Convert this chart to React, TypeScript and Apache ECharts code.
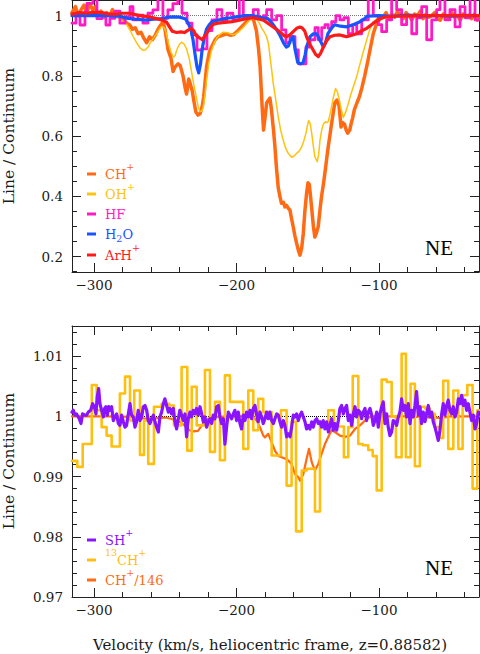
import React, { useEffect, useRef } from "react";
import * as echarts from "echarts";

// ---------- DATA ----------
const X_MIN = -315.4;
const X_MAX = -29.8;
const X_TICKS = [-300, -200, -100];

// top panel: [velocity (km/s), line/continuum]
const CH_PLUS: [number, number][] = [
  [-315.4,1.01],[-313,1.03],[-311,1.0],[-309,1.02],[-307,1.035],[-305,1.01],[-303,1.04],[-301,1.02],[-299,1.03],[-297,1.0],
  [-295,1.015],[-293,0.995],[-291,1.01],[-289,1.0],[-287,1.02],[-285,0.995],[-283,1.005],[-281,0.99],[-279,0.985],[-277,0.975],
  [-275,0.97],[-273,0.955],[-271,0.96],[-269,0.94],[-267,0.945],[-265,0.925],[-263,0.91],[-261,0.93],[-259,0.92],[-257,0.935],
  [-255,0.955],[-253,0.97],[-251.5,0.98],[-250,0.95],[-248,0.886],[-246,0.86],[-244.5,0.815],[-243,0.83],[-241,0.84],[-239.5,0.835],
  [-237.5,0.8],[-236,0.76],[-235,0.74],[-233.5,0.79],[-232.5,0.775],[-231,0.75],[-230,0.72],[-228.5,0.68],[-227,0.67],[-225.5,0.675],
  [-224,0.7],[-223,0.73],[-221,0.83],[-219,0.88],[-217.5,0.896],[-215,0.92],[-213,0.93],[-210,0.935],[-207,0.94],[-204,0.935],
  [-202,0.937],[-199,0.95],[-195,0.97],[-192,0.985],[-190.5,0.996],[-188,0.986],[-186,0.95],[-184.5,0.89],[-183.4,0.83],[-182,0.7],
  [-181,0.62],[-180,0.66],[-178.8,0.71],[-177.5,0.72],[-176.5,0.726],[-175.5,0.69],[-174,0.62],[-173,0.565],[-172,0.5],[-170.7,0.43],
  [-169.5,0.4],[-168.4,0.377],[-167,0.38],[-166,0.365],[-164.9,0.37],[-163.5,0.36],[-162.5,0.355],[-161.5,0.33],[-160.2,0.3],[-159,0.27],
  [-157.8,0.245],[-156.5,0.22],[-155.4,0.205],[-154.2,0.23],[-153.1,0.277],[-152,0.35],[-150.8,0.41],[-149.8,0.445],[-148.9,0.44],[-148,0.4],
  [-147.3,0.365],[-146,0.3],[-145,0.265],[-143.8,0.28],[-142.6,0.3],[-141.5,0.35],[-140.3,0.4],[-139,0.44],[-138,0.475],[-136.8,0.52],
  [-135.6,0.565],[-134.5,0.6],[-133.3,0.64],[-132,0.68],[-131,0.71],[-129.5,0.72],[-128,0.7],[-126.6,0.63],[-125.5,0.645],[-124.2,0.64],
  [-123,0.62],[-121.9,0.61],[-120.5,0.62],[-119.6,0.64],[-118.5,0.66],[-117.3,0.687],[-115.5,0.71],[-113.8,0.73],[-112,0.76],[-110,0.8],
  [-108,0.845],[-106.3,0.886],[-104,0.94],[-101.6,0.975],[-99,0.99],[-97,0.996],[-95,1.01],[-93,0.99],[-91,1.005],[-89,0.995],
  [-87,1.015],[-85,1.0],[-83,0.99],[-81,1.01],[-79,1.0],[-77,0.985],[-75,1.005],[-73,1.0],[-71,1.015],[-69,0.99],
  [-67,1.005],[-65,0.995],[-63,1.0],[-61,1.01],[-59,0.99],[-57,0.985],[-55,1.005],[-53,1.0],[-51,0.99],[-49,1.01],
  [-47,0.995],[-45,1.0],[-43,0.985],[-41,1.005],[-39,0.995],[-37,1.0],[-35,0.99],[-33,1.005],[-31,0.985],[-29.8,1.0],
];

const OH_PLUS: [number, number][] = [
  [-315.4,1.0],[-300,1.0],[-290,1.0],[-285,0.997],[-282,0.99],[-279.5,0.98],[-277,0.97],[-274.5,0.95],[-272.4,0.93],[-270,0.91],
  [-267.7,0.893],[-265.5,0.885],[-264,0.886],[-262,0.896],[-260.7,0.908],[-258,0.927],[-256,0.94],[-254,0.955],[-252.5,0.964],[-251,0.962],
  [-250,0.953],[-248.8,0.932],[-247.8,0.91],[-246,0.88],[-244.3,0.862],[-243,0.868],[-242,0.885],[-240,0.905],[-238.5,0.912],[-236.8,0.906],
  [-235,0.89],[-233,0.855],[-231.4,0.81],[-229.7,0.765],[-228,0.725],[-226.8,0.697],[-225.6,0.682],[-224.4,0.683],[-223.3,0.697],[-222,0.74],
  [-221,0.785],[-219.5,0.84],[-217.5,0.884],[-215.5,0.91],[-213.9,0.925],[-211.5,0.938],[-209.3,0.945],[-206,0.943],[-202.2,0.936],[-199,0.944],
  [-195,0.962],[-192,0.979],[-189.4,0.989],[-187.5,0.99],[-185.7,0.986],[-184,0.976],[-182.2,0.958],[-180.5,0.945],[-178.8,0.93],[-177.5,0.905],
  [-176.5,0.866],[-175.3,0.82],[-174.2,0.775],[-172.4,0.72],[-170.7,0.665],[-169,0.62],[-167.2,0.587],[-165.5,0.56],[-163.7,0.543],[-161.3,0.53],
  [-159.5,0.534],[-157.8,0.543],[-155.8,0.551],[-154.2,0.565],[-152.7,0.585],[-151.2,0.61],[-150.2,0.635],[-149.3,0.652],[-148.3,0.642],[-147.2,0.61],
  [-146,0.565],[-144.9,0.53],[-143.3,0.515],[-142.3,0.54],[-141.4,0.585],[-140.2,0.62],[-139,0.64],[-137.5,0.648],[-136.5,0.645],[-135.6,0.648],
  [-134,0.68],[-132,0.728],[-130.5,0.758],[-129.2,0.748],[-127.8,0.72],[-126.3,0.685],[-125,0.662],[-123.5,0.678],[-121.5,0.708],[-120,0.735],
  [-118,0.764],[-115.5,0.8],[-113.3,0.84],[-111,0.88],[-108.7,0.918],[-107,0.946],[-105.2,0.968],[-103,0.982],[-101.6,0.99],[-98,0.998],
  [-95,1.0],[-29.8,1.0],
];

// HF: binned spectrum, [bin left edge, value]
const HF: [number, number][] = [
  [-315.4,0.975],[-312.6,1.008],[-309.8,0.969],[-306.3,1.013],[-304.9,1.041],[-300.7,1.06],[-297.9,0.99],[-294.4,1.008],[-291.6,0.969],[-288.8,0.991],
  [-285.3,1.015],[-281.8,0.975],[-278.2,0.997],[-274.7,1.03],[-272.6,0.986],[-269.1,1.002],[-265.6,0.975],[-262.1,1.008],[-258.6,1.019],[-255.1,1.06],
  [-251.6,0.991],[-248.1,1.019],[-244.6,1.04],[-241.1,1.06],[-238.2,1.008],[-234.7,0.975],[-231.2,0.936],[-227.7,0.886],[-224.2,0.89],[-220.7,0.95],
  [-217.2,0.986],[-213.7,1.02],[-210.2,0.986],[-206.7,1.008],[-202.5,0.986],[-198.0,1.06],[-195.2,0.99],[-191.7,1.0],[-188.2,1.02],[-184.7,0.99],
  [-181.2,1.0],[-178.8,1.02],[-175.3,0.986],[-171.8,1.0],[-168.3,0.953],[-165.3,0.91],[-162.4,0.93],[-158.9,0.886],[-156.6,0.84],[-151.2,0.896],
  [-148.4,0.92],[-144.9,0.96],[-142.6,0.92],[-140.2,0.96],[-137.9,0.97],[-135.6,0.958],[-133.2,0.98],[-130.2,1.0],[-127.4,0.986],[-124.6,0.993],
  [-121.5,0.94],[-118.4,0.97],[-115.6,0.94],[-112.1,0.986],[-107.5,1.06],[-104.0,1.0],[-100.5,0.97],[-98.1,0.947],[-94.6,0.986],[-91.1,1.06],
  [-87.6,1.02],[-84.1,0.97],[-80.6,1.0],[-77.0,0.94],[-73.5,0.993],[-70.0,1.03],[-66.5,0.92],[-63.0,0.986],[-59.5,1.02],[-57.2,1.06],
  [-53.7,0.986],[-50.2,1.02],[-46.6,0.963],[-43.1,1.03],[-39.6,0.993],[-36.1,1.06],[-32.6,0.986],[-29.8,0.986],
];

const H2O: [number, number][] = [
  [-315.4,1.0],[-300,1.0],[-290,1.0],[-282,0.998],[-276,0.991],[-270,0.988],[-264,0.985],[-258,0.988],[-252,0.99],[-248,0.995],
  [-244,0.996],[-240,0.995],[-236,0.99],[-234,0.976],[-232,0.955],[-230.5,0.92],[-229,0.87],[-227.7,0.83],[-226.5,0.81],[-225.2,0.84],
  [-224,0.89],[-222.5,0.93],[-221,0.955],[-219,0.97],[-217,0.98],[-213,0.985],[-209,0.99],[-204,0.993],[-199,0.997],[-194,1.0],
  [-190,1.0],[-186,0.998],[-182,0.993],[-178,0.99],[-175,0.975],[-172,0.955],[-169.5,0.935],[-167,0.91],[-165,0.896],[-163.5,0.9],
  [-162,0.92],[-160.3,0.93],[-158.5,0.88],[-157,0.845],[-155,0.84],[-153.3,0.843],[-151.8,0.87],[-150.8,0.896],[-148.4,0.93],[-146,0.94],
  [-143.7,0.94],[-141.5,0.92],[-139,0.896],[-137.5,0.91],[-135.8,0.94],[-133,0.96],[-131,0.97],[-127,0.965],[-122.7,0.963],[-118,0.97],
  [-113.3,0.98],[-110,0.99],[-108.6,0.998],[-100,1.0],[-90,0.998],[-80,1.002],[-70,0.999],[-60,1.001],[-50,0.998],[-40,1.001],[-29.8,1.0],
];

const ARH_PLUS: [number, number][] = [
  [-315.4,1.005],[-310,1.01],[-305,1.008],[-300,1.012],[-295,1.01],[-290,1.006],[-285,1.005],[-280,1.008],[-275,1.008],[-268,1.0],
  [-262,0.997],[-256,0.99],[-252,0.985],[-249,0.978],[-247,0.963],[-245,0.948],[-242,0.944],[-239,0.946],[-236.5,0.944],[-234.5,0.95],
  [-232,0.958],[-230,0.95],[-228.5,0.936],[-227,0.93],[-225.5,0.925],[-224,0.92],[-222.5,0.93],[-221,0.94],[-218.6,0.96],[-216,0.972],
  [-213,0.975],[-208,0.978],[-203,0.98],[-198,0.985],[-193,0.99],[-189,0.993],[-185,0.99],[-181,0.985],[-178,0.975],[-175,0.965],
  [-172,0.955],[-169.5,0.946],[-167,0.935],[-165,0.93],[-162.5,0.936],[-160,0.948],[-157.8,0.958],[-155.5,0.962],[-154,0.96],[-152,0.948],
  [-150.8,0.93],[-148.5,0.905],[-146.2,0.886],[-144.5,0.872],[-142.6,0.864],[-141,0.875],[-139,0.896],[-137,0.915],[-134.4,0.93],[-131,0.935],
  [-127.4,0.936],[-125,0.933],[-122.7,0.93],[-119,0.935],[-115.7,0.94],[-112,0.95],[-108.6,0.958],[-106,0.967],[-104,0.975],[-101.5,0.983],
  [-99.3,0.99],[-96,0.995],[-90,0.998],[-70,1.0],[-29.8,1.0],
];

// bottom panel
const SH_PLUS: [number, number][] = [
  [-315.4,1.0007],[-314.5,1.001],[-313.3,1.0002],[-312.2,1.0004],[-310.3,0.9996],[-309.1,0.9988],[-308.0,1.0004],[-306.3,1.0002],[-305.1,1.0002],[-304.0,1.0007],
  [-302.3,1.001],[-300.9,1.0021],[-299.8,1.0016],[-298.6,1.0004],[-297.7,1.0032],[-296.7,1.0046],[-295.8,1.0021],[-294.6,1.001],[-293.4,0.9999],[-292.5,1.0013],
  [-291.6,1.0016],[-290.6,1.0002],[-289.7,1.0016],[-288.8,1.001],[-287.6,1.0016],[-286.4,0.9993],[-285.3,0.9999],[-284.1,1.0004],[-282.9,0.9988],[-281.8,0.9985],
  [-280.6,1.0002],[-279.4,0.9991],[-278.2,0.9982],[-277.1,0.9985],[-275.9,1.0004],[-274.7,1.0021],[-273.6,1.0002],[-272.4,0.9999],[-271.2,0.9982],[-270.1,0.9991],
  [-268.9,1.001],[-267.7,0.9993],[-266.5,0.9999],[-265.4,1.0016],[-264.2,1.0018],[-263.0,1.001],[-261.9,0.9993],[-260.7,0.9988],[-259.5,0.9996],[-258.3,1.0002],
  [-257.2,0.9991],[-256.0,0.9982],[-254.8,0.9974],[-253.7,0.9999],[-252.5,1.0007],[-251.3,1.0021],[-250.2,1.0029],[-249.0,1.0018],[-247.8,1.0007],[-246.7,1.0013],
  [-245.5,1.0004],[-244.3,1.0013],[-243.2,0.9991],[-242.0,0.9979],[-240.8,0.9996],[-239.7,1.001],[-238.5,1.0002],[-237.3,0.9993],[-236.1,1.0004],[-235.0,0.9966],
  [-233.8,0.9996],[-232.6,1.0007],[-231.5,0.9999],[-230.3,1.001],[-229.1,1.0004],[-228.0,1.0013],[-226.8,1.0002],[-225.6,1.0016],[-224.4,1.0004],[-223.3,0.9991],
  [-222.1,0.9999],[-220.9,0.9982],[-219.8,0.9991],[-218.6,0.9996],[-217.4,0.9988],[-216.3,1.0002],[-215.1,0.9996],[-213.9,1.0016],[-212.7,1.0018],[-211.6,0.9999],
  [-210.4,0.9988],[-209.2,0.9996],[-208.1,0.9954],[-206.9,0.9982],[-205.7,1.0007],[-204.6,1.0002],[-203.4,0.9996],[-202.2,1.0004],[-201.1,1.001],[-199.9,0.9993],
  [-198.7,1.0007],[-197.5,0.9988],[-196.4,0.9979],[-195.2,1.0002],[-194.0,0.9993],[-192.9,1.0007],[-191.7,0.9999],[-190.5,1.001],[-189.4,0.9996],[-188.2,1.0013],
  [-187.0,1.0018],[-185.8,1.0002],[-184.7,0.9991],[-183.5,1.0007],[-182.3,0.9999],[-181.2,0.9988],[-180.0,0.9996],[-178.8,1.0007],[-177.7,0.9996],[-176.5,1.0007],
  [-175.3,0.9993],[-174.1,0.9988],[-173.0,0.9996],[-171.8,1.0004],[-170.6,1.0002],[-169.5,0.9991],[-168.3,0.9982],[-167.1,0.9993],[-166.0,0.9985],[-164.8,0.9966],
  [-163.6,0.9971],[-162.4,0.9966],[-161.3,0.9982],[-160.1,1.0002],[-158.9,0.9999],[-157.8,1.0004],[-156.6,0.9993],[-155.4,1.0002],[-154.3,1.0007],[-153.1,0.9999],
  [-151.9,0.9991],[-150.8,0.9979],[-149.6,0.9985],[-148.4,0.9979],[-147.2,0.9991],[-146.1,0.9982],[-144.9,0.9993],[-143.7,0.9996],[-142.6,0.9988],[-141.4,0.9991],
  [-140.2,0.9982],[-139.1,0.9993],[-137.9,0.9979],[-136.7,0.9991],[-135.5,0.9974],[-134.4,0.9985],[-133.2,0.9996],[-132.0,0.9977],[-130.9,0.9988],[-129.7,0.9977],
  [-128.5,0.9993],[-127.4,1.0013],[-126.2,1.0018],[-125.0,1.0004],[-123.9,1.0013],[-122.7,1.0018],[-121.5,0.9993],[-120.3,1.0002],[-119.2,0.9985],[-118.0,1.0004],
  [-116.8,1.0016],[-115.7,0.9999],[-114.5,1.001],[-113.3,1.0007],[-112.2,0.9996],[-111.0,1.0007],[-109.8,1.0013],[-108.7,0.9993],[-107.5,1.0007],[-106.3,1.0013],
  [-105.1,1.0002],[-104.0,0.9985],[-102.8,0.9993],[-101.6,1.0007],[-100.5,0.9982],[-99.3,1.0004],[-98.1,1.0016],[-97.0,1.0024],[-95.8,0.9988],[-94.6,1.0004],
  [-93.5,0.9982],[-92.3,0.9968],[-91.1,0.9974],[-90.0,0.9993],[-88.8,0.9991],[-87.6,0.9985],[-86.4,0.9999],[-85.3,1.0007],[-84.1,1.0029],[-82.9,1.001],
  [-81.8,1.0018],[-80.6,0.9999],[-79.4,1.0021],[-78.2,0.9988],[-77.1,1.001],[-75.9,0.9999],[-74.7,1.0018],[-73.6,1.0041],[-72.4,1.0002],[-71.2,1.0016],
  [-70.1,0.9988],[-68.9,1.0007],[-67.7,0.9991],[-66.6,1.0004],[-65.4,1.0018],[-64.2,0.9999],[-63.0,1.0007],[-61.9,0.9991],[-60.7,0.9982],[-59.5,0.9971],
  [-58.4,0.996],[-57.2,0.9977],[-56.0,1.0004],[-54.9,1.0021],[-53.7,1.0002],[-52.5,1.0018],[-51.4,1.0027],[-50.2,1.001],[-49.0,1.0004],[-47.8,1.0016],
  [-46.7,0.9999],[-45.5,1.0007],[-44.3,1.0029],[-43.2,1.0021],[-42.0,1.0035],[-40.8,1.0018],[-39.7,1.0027],[-38.5,1.001],[-37.3,1.0021],[-36.2,1.0007],
  [-35.0,0.9993],[-33.8,1.0002],[-32.6,0.9979],[-31.5,0.9988],[-30.3,1.0007],
];

// 13CH+: binned spectrum, [bin left edge, value]
const CH13_PLUS: [number, number][] = [
  [-315.4,0.9926],[-311.7,0.9916],[-307.9,0.9954],[-301.5,1.0052],[-298.1,1.001],[-294.6,0.9982],[-291.1,0.9968],[-287.6,0.995],[-281.8,1.0038],[-278.2,1.0066],
  [-274.7,0.9993],[-271.7,1.0043],[-267.7,0.9936],[-264.9,0.9993],[-261.9,0.9921],[-257.9,1.0016],[-252.5,1.0021],[-247.2,1.0018],[-243.9,0.9985],[-238.5,1.0082],
  [-234.5,0.9943],[-231.4,1.0049],[-227.9,0.9985],[-222.1,1.0077],[-218.6,0.9941],[-215.1,1.0024],[-211.6,0.9927],[-208.1,1.0068],[-204.6,1.0024],[-195.2,0.9946],
  [-191.7,1.0043],[-188.2,0.9977],[-184.7,1.0029],[-181.2,1.0007],[-175.3,0.9935],[-168.8,1.001],[-164.8,0.9885],[-161.3,0.9991],[-158.2,0.9809],[-154.2,0.991],
  [-150.7,0.9913],[-144.9,0.9842],[-141.4,0.999],[-135.6,1.001],[-131.6,0.9983],[-124.6,0.9932],[-121.5,0.9982],[-118.4,1.0067],[-114.5,0.9954],[-111.4,0.9952],
  [-107.5,0.9944],[-104.4,0.9934],[-101.6,0.9877],[-98.1,1.0061],[-94.6,1.0057],[-91.1,1.0],[-88.1,0.9932],[-84.1,1.0104],[-81.1,0.9932],[-77.8,1.0054],
  [-74.8,0.9917],[-71.3,1.0016],[-67.7,1.0013],[-64.2,1.0004],[-60.7,0.9982],[-57.2,0.9964],[-54.9,1.0059],[-51.4,0.9946],[-47.8,1.0043],[-44.3,0.9946],
  [-41.3,1.0035],[-38.0,1.0052],[-34.3,0.988],[-31.0,1.001],[-29.8,1.001],
];

const CH_PLUS_146: [number, number][] = [
  [-315.4,1.0],[-290,1.0],[-272,0.9999],[-268,0.9997],[-262,0.9996],[-256,0.9997],[-250,0.9998],[-246,0.9996],[-242,0.9993],[-239,0.999],
  [-236,0.9984],[-233,0.9977],[-230,0.9975],[-227,0.9976],[-224.5,0.9984],[-222,0.9993],[-219,0.9997],[-214,0.9999],[-205,1.0],[-190,1.0],
  [-188.2,0.9998],[-185.8,0.9993],[-183.5,0.9982],[-181.2,0.9968],[-180,0.9965],[-177.7,0.9971],[-175.3,0.9957],[-173,0.9943],[-170.6,0.9934],[-168.3,0.9932],
  [-164.8,0.9929],[-161.3,0.9921],[-158.9,0.9904],[-156.6,0.9899],[-155.4,0.9893],[-153.1,0.9904],[-150.8,0.9929],[-149.1,0.9946],[-147.2,0.9924],[-144.9,0.991],
  [-142.6,0.9921],[-140.2,0.9938],[-137.9,0.9954],[-135.5,0.9966],[-133.2,0.9977],[-130.9,0.9974],[-127.4,0.9968],[-123.9,0.9966],[-120.3,0.9968],[-116.8,0.9979],
  [-113.3,0.9985],[-109.8,0.9993],[-106.3,0.9999],[-104,1.0],[-80,1.0],[-60,0.9998],[-57,0.9997],[-50,1.0],[-29.8,1.0],
];

// ---------- STYLE ----------
const FONT = "'DejaVu Serif', serif";
const C_CH = "#ff6a13";
const C_OH = "#ffc20e";
const C_HF = "#ff1ac6";
const C_H2O = "#1655ff";
const C_ARH = "#ff1a1a";
const C_SH = "#8a14ff";
const C_13CH = "#ffbf0f";
const AXIS_COLOR = "#222";
const TEXT_COLOR = "#1a1a1a";

const isMultiple = (v: number, step: number) => Math.abs(v / step - Math.round(v / step)) < 1e-6;
const fmtNum = (v: number) => {
  const r = parseFloat(v.toFixed(4));
  return r < 0 ? "\u2212" + String(Math.abs(r)) : String(r);
};

function xAxis(gridIndex: number, position: "top" | "bottom", showLabel: boolean) {
  return {
    type: "value",
    gridIndex,
    position,
    min: X_MIN,
    max: X_MAX,
    splitNumber: 3,
    minInterval: 100,
    maxInterval: 100,
    axisLine: { show: true, onZero: false, lineStyle: { color: AXIS_COLOR, width: 1 } },
    axisTick: { show: true, inside: true, length: 9, lineStyle: { color: AXIS_COLOR, width: 1 } },
    minorTick: { show: true, splitNumber: 5, length: 5, lineStyle: { color: AXIS_COLOR, width: 1 } },
    splitLine: { show: false },
    minorSplitLine: { show: false },
    axisLabel: {
      show: showLabel,
      margin: 6,
      fontFamily: FONT,
      fontSize: 13.5,
      color: TEXT_COLOR,
      showMinLabel: false,
      showMaxLabel: false,
      formatter: (v: number) => (X_TICKS.some((t) => Math.abs(t - v) < 1e-6) ? fmtNum(v) : ""),
    },
  };
}

function yAxis(
  gridIndex: number,
  position: "left" | "right",
  showLabel: boolean,
  min: number,
  max: number,
  step: number,
  minorSplit: number,
  showMin: boolean
) {
  return {
    type: "value",
    gridIndex,
    position,
    min,
    max,
    minInterval: step,
    maxInterval: step,
    splitNumber: 5,
    axisLine: { show: true, onZero: false, lineStyle: { color: AXIS_COLOR, width: 1 } },
    axisTick: { show: true, inside: true, length: 9, lineStyle: { color: AXIS_COLOR, width: 1 } },
    minorTick: { show: true, splitNumber: minorSplit, length: 5, lineStyle: { color: AXIS_COLOR, width: 1 } },
    splitLine: { show: false },
    minorSplitLine: { show: false },
    axisLabel: {
      show: showLabel,
      margin: 9,
      fontFamily: FONT,
      fontSize: 13.5,
      color: TEXT_COLOR,
      showMinLabel: showMin,
      showMaxLabel: false,
      formatter: (v: number) => (isMultiple(v, step) ? fmtNum(v) : ""),
    },
  };
}

function line(
  name: string,
  data: [number, number][],
  color: string,
  width: number,
  axisIndex: number,
  extra: Record<string, unknown> = {}
) {
  return {
    type: "line",
    name,
    data,
    xAxisIndex: axisIndex,
    yAxisIndex: axisIndex,
    symbol: "none",
    showSymbol: false,
    clip: true,
    silent: true,
    lineStyle: { color, width, cap: "round", join: "round" },
    itemStyle: { color },
    ...extra,
  };
}

function refLine(axisIndex: number, color: string) {
  return {
    type: "line",
    data: [],
    xAxisIndex: axisIndex,
    yAxisIndex: axisIndex,
    symbol: "none",
    silent: true,
    markLine: {
      silent: true,
      z: 1,
      symbol: ["none", "none"],
      label: { show: false },
      lineStyle: { type: "dotted", color, width: 1 },
      data: [{ yAxis: 1 }],
    },
  };
}

function rich(color: string) {
  return {
    b: { fontFamily: FONT, fontSize: 13, fill: color, color },
    p: { fontFamily: FONT, fontSize: 9.5, fill: color, color, padding: [0, 0, 15, 0] },
    s: { fontFamily: FONT, fontSize: 9.5, fill: color, color, padding: [8, 0, 0, 0] },
  };
}

function legendItem(text: string, color: string, y: number) {
  return [
    { type: "rect", shape: { x: 87, y: y - 1.5, width: 9, height: 3 }, style: { fill: color } },
    {
      type: "text",
      x: 105,
      y,
      style: { text, rich: rich(color), fill: color, align: "left", verticalAlign: "middle", font: `13px ${FONT}` },
    },
  ];
}

export default function App() {
  const ref = useRef<HTMLDivElement>(null);

  useEffect(() => {
    if (!ref.current) return;
    const chart = echarts.init(ref.current, null, { renderer: "svg" });
    const option = {
      animation: false,
      backgroundColor: "#fff",
      grid: [
        { left: 72, top: 0, width: 407, height: 272, containLabel: false, outerBoundsMode: "none" },
        { left: 72, top: 326, width: 407, height: 271, containLabel: false, outerBoundsMode: "none" },
      ],
      xAxis: [xAxis(0, "bottom", true), xAxis(0, "top", false), xAxis(1, "bottom", true), xAxis(1, "top", false)],
      yAxis: [
        yAxis(0, "left", true, 0.149, 1.052, 0.2, 4, false),
        yAxis(0, "right", false, 0.149, 1.052, 0.2, 4, false),
        yAxis(1, "left", true, 0.97, 1.015, 0.01, 5, true),
        yAxis(1, "right", false, 0.97, 1.015, 0.01, 5, true),
      ],
      series: [
        refLine(0, "#777"),
        line("CH+", CH_PLUS, C_CH, 3.5, 0),
        line("OH+", OH_PLUS, C_OH, 1.5, 0),
        line("HF", HF, C_HF, 2.8, 0, { step: "end" }),
        line("H2O", H2O, C_H2O, 3.2, 0),
        line("ArH+", ARH_PLUS, C_ARH, 3.2, 0),
        refLine(2, "#000"),
        line("CH+/146", CH_PLUS_146, C_CH, 2.2, 2),
        line("13CH+", CH13_PLUS, C_13CH, 2.6, 2, { step: "end" }),
        line("SH+", SH_PLUS, C_SH, 3.2, 2),
      ],
      graphic: [
        ...legendItem("{b|CH}{p|+}", C_CH, 174),
        ...legendItem("{b|OH}{p|+}", C_OH, 194),
        ...legendItem("{b|HF}", C_HF, 214),
        ...legendItem("{b|H}{s|2}{b|O}", C_H2O, 234),
        ...legendItem("{b|ArH}{p|+}", C_ARH, 255),
        ...legendItem("{b|SH}{p|+}", C_SH, 540),
        ...legendItem("{p|13}{b|CH}{p|+}", C_13CH, 560),
        ...legendItem("{b|CH}{p|+}{b|/146}", C_CH, 580),
        {
          type: "text",
          x: 439,
          y: 248,
          style: { text: "NE", font: "21px 'Liberation Serif', serif", fill: "#000", align: "center", verticalAlign: "middle" },
        },
        {
          type: "text",
          x: 439,
          y: 568,
          style: { text: "NE", font: "21px 'Liberation Serif', serif", fill: "#000", align: "center", verticalAlign: "middle" },
        },
        {
          type: "text",
          x: 9,
          y: 136,
          rotation: Math.PI / 2,
          style: { text: "Line / Continuum", font: `15.5px ${FONT}`, fill: TEXT_COLOR, align: "center", verticalAlign: "middle" },
        },
        {
          type: "text",
          x: 9,
          y: 461,
          rotation: Math.PI / 2,
          style: { text: "Line / Continuum", font: `15.5px ${FONT}`, fill: TEXT_COLOR, align: "center", verticalAlign: "middle" },
        },
        {
          type: "text",
          x: 270,
          y: 645,
          style: {
            text: "Velocity (km/s, heliocentric frame, z=0.88582)",
            font: `15px ${FONT}`,
            fill: TEXT_COLOR,
            align: "center",
            verticalAlign: "middle",
          },
        },
      ],
    };
    chart.setOption(option as any);
    return () => chart.dispose();
  }, []);

  return (
    <div
      ref={ref}
      style={{ position: "fixed", left: 0, top: 0, width: 480, height: 654, background: "#fff" }}
    />
  );
}
